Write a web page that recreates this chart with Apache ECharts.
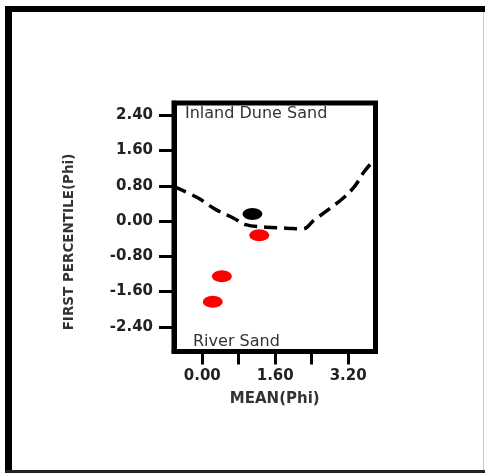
<!DOCTYPE html>
<html><head><meta charset="utf-8">
<script src="https://cdn.jsdelivr.net/npm/echarts@6/dist/echarts.min.js"></script>
<style>html,body{margin:0;padding:0;background:#fff}#c{width:485px;height:473px}</style>
</head><body><div id="c"></div>
<script>
// Data
const riverSand = [[1.25, -0.32], [0.43, -1.25], [0.23, -1.83]];
const inlandDune = [[1.10, 0.16]];
const boundary = [[-0.62,0.78],[-0.1,0.53],[0.3,0.26],[0.7,0.06],[0.95,-0.08],[1.4,-0.14],[1.85,-0.16],[2.2,-0.18],[2.45,0.02],[2.75,0.25],[3.1,0.53],[3.35,0.8],[3.55,1.12],[3.8,1.42]];
const xLabels = [0, 1.6, 3.2];
const xTicks = [0, 0.8, 1.6, 2.4, 3.2];
const yTicks = [-2.4, -1.6, -0.8, 0, 0.8, 1.6, 2.4];

const chart = echarts.init(document.getElementById('c'), null, {renderer:'canvas'});
const tickFont = {fontFamily:'DejaVu Sans', fontWeight:'bold', fontSize:15, color:'#222'};
chart.setOption({
  animation:false,
  backgroundColor:'#fff',
  grid:{left:174, right:109.5, top:103, bottom:121.5, show:true, borderColor:'#000', borderWidth:5, backgroundColor:'transparent'},
  xAxis:{type:'value', min:-0.62, max:3.8,
    name:'MEAN(Phi)', nameLocation:'middle', nameGap:40,
    nameTextStyle:{fontFamily:'DejaVu Sans', fontWeight:'bold', fontSize:15, color:'#333'},
    axisLine:{show:true, onZero:false, lineStyle:{color:'#000', width:5}}, splitLine:{show:false},
    axisTick:{show:true, length:13, customValues:xTicks, lineStyle:{color:'#000', width:3}},
    axisLabel:{customValues:xLabels, margin:17, formatter:v=>v.toFixed(2), ...tickFont}},
  yAxis:{type:'value', min:-2.96, max:2.68,
    axisLine:{show:true, onZero:false, lineStyle:{color:'#000', width:5}}, splitLine:{show:false},
    axisTick:{show:true, length:15, customValues:yTicks, lineStyle:{color:'#000', width:3}},
    axisLabel:{customValues:yTicks, margin:21, formatter:v=>v.toFixed(2), ...tickFont}},
  series:[
    {type:'line', data:boundary, smooth:0.4, symbol:'none', clip:true,
      lineStyle:{color:'#000', width:3.5, type:[13,7]}},
    {type:'scatter', data:inlandDune, symbol:'circle', symbolSize:[20,12], itemStyle:{color:'#000', opacity:1}},
    {type:'scatter', data:riverSand, symbol:'circle', symbolSize:[20,12], itemStyle:{color:'#f00', opacity:1}}
  ],
  graphic:[
    {type:'rect', shape:{x:5, y:6, width:7, height:467}, style:{fill:'#000'}},
    {type:'rect', shape:{x:5, y:6, width:480, height:6}, style:{fill:'#000'}},
    {type:'rect', shape:{x:5, y:470, width:480, height:3}, style:{fill:'#222'}},
    {type:'rect', shape:{x:483, y:12, width:1, height:458}, style:{fill:'#ccc'}},
    {type:'text', x:69, y:242, rotation:Math.PI/2,
      style:{text:'FIRST PERCENTILE(Phi)', fontFamily:'DejaVu Sans', fontWeight:'bold', fontSize:13.5, fill:'#333', align:'center', verticalAlign:'middle'}},
    {type:'text', left:185, top:106, style:{text:'Inland Dune Sand', fontFamily:'DejaVu Sans', fontSize:16, fill:'#333'}},
    {type:'text', left:193, top:334, style:{text:'River Sand', fontFamily:'DejaVu Sans', fontSize:16, fill:'#333'}}
  ]
});
</script></body></html>
